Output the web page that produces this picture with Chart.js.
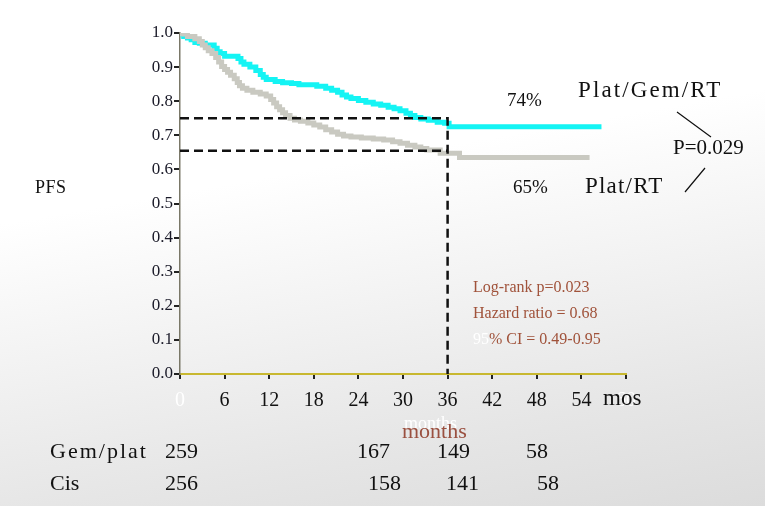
<!DOCTYPE html>
<html>
<head>
<meta charset="utf-8">
<script src="https://cdn.jsdelivr.net/npm/chart.js@4"></script>
<style>
    html, body {
        margin: 0;
        padding: 0;
        width: 765px;
        height: 506px;
        overflow: hidden;
        background: linear-gradient(170deg, #ffffff 0%, #ffffff 35%, #e6e6e6 80%, #dcdcdc 100%);
    }
    #km {
        position: absolute;
        left: 0;
        top: 0;
    }
</style>
</head>
<body>
<canvas id="km" width="765" height="506"></canvas>
<script>
// Plat/Gem/RT (cyan) - time of drop (months) and survival after the drop
const gemTimes = [0, 0.5, 1.0, 1.5, 2.0, 2.6, 3.4, 4.6, 5.0, 5.4, 6.0, 7.8, 8.2, 8.6, 9.4, 10.2, 10.8, 11.2, 11.6, 12.8, 13.8, 15.0, 16.0, 18.4, 19.6, 20.4, 21.2, 21.8, 22.4, 23.0, 24.0, 25.0, 26.0, 27.0, 28.0, 28.8, 29.6, 30.4, 31.0, 31.6, 32.4, 33.4, 34.6, 35.6, 36.2, 45.6, 56.7];
const gemSurv = [1.0, 0.995, 0.99, 0.985, 0.98, 0.972, 0.97, 0.965, 0.955, 0.945, 0.94, 0.932, 0.925, 0.915, 0.908, 0.9, 0.89, 0.878, 0.87, 0.864, 0.858, 0.854, 0.852, 0.848, 0.844, 0.838, 0.832, 0.826, 0.818, 0.812, 0.808, 0.802, 0.797, 0.792, 0.788, 0.782, 0.778, 0.772, 0.765, 0.758, 0.752, 0.748, 0.744, 0.738, 0.735, 0.725, 0.725];

// Plat/RT (grey)
const ratTimes = [0, 1.0, 2.0, 2.6, 3.0, 3.4, 3.8, 4.3, 4.8, 5.2, 5.6, 6.0, 6.4, 6.8, 7.3, 7.7, 8.0, 8.4, 9.0, 9.8, 10.8, 11.6, 12.2, 12.6, 13.0, 13.4, 13.8, 14.2, 14.8, 15.4, 16.2, 17.2, 18.0, 18.8, 19.6, 20.4, 21.2, 22.0, 23.0, 24.4, 26.0, 27.4, 28.6, 29.6, 30.6, 31.6, 32.4, 33.2, 35.0, 37.6, 40.4, 55.1];
const ratSurv = [1.0, 0.997, 0.99, 0.983, 0.975, 0.965, 0.957, 0.948, 0.94, 0.928, 0.915, 0.902, 0.893, 0.885, 0.876, 0.866, 0.855, 0.845, 0.838, 0.832, 0.826, 0.821, 0.815, 0.805, 0.795, 0.784, 0.775, 0.766, 0.758, 0.75, 0.745, 0.741, 0.736, 0.73, 0.724, 0.716, 0.71, 0.703, 0.698, 0.695, 0.692, 0.689, 0.686, 0.681, 0.677, 0.671, 0.666, 0.661, 0.657, 0.647, 0.635, 0.635];

// landmark at 36 months
const landmarkMonth = 36;
const gemLandmark = 0.75;
const ratLandmark = 0.655;

// numbers at risk
const riskGem = ["259", "167", "149", "58"];
const riskCis = ["256", "158", "141", "58"];

function toPoints(times, surv) {
    return times.map((t, i) => ({ x: t, y: surv[i] }));
}

const serif = "'Liberation Serif', 'DejaVu Serif', serif";

const textPlugin = {
    id: "textPlugin",
    afterDraw(chart) {
        const ctx = chart.ctx;
        ctx.save();
        ctx.textBaseline = "alphabetic";
        ctx.textAlign = "left";

        function txt(s, x, y, size, color, spacing) {
            ctx.font = size + "px " + serif;
            ctx.fillStyle = color;
            ctx.letterSpacing = (spacing || 0) + "px";
            ctx.fillText(s, x, y);
            ctx.letterSpacing = "0px";
        }

        txt("PFS", 35, 193, 18, "#111", 0.5);
        txt("74%", 507, 106, 19, "#111");
        txt("65%", 513, 193, 19, "#111");
        txt("Plat/Gem/RT", 578, 97, 23, "#111", 2.1);
        txt("Plat/RT", 585, 193, 23, "#111", 1.2);
        txt("P=0.029", 673, 154, 21, "#111");
        txt("mos", 603, 405, 23, "#111");

        ctx.strokeStyle = "#111";
        ctx.lineWidth = 1.2;
        ctx.beginPath();
        ctx.moveTo(677, 112);
        ctx.lineTo(711, 137);
        ctx.moveTo(705, 168);
        ctx.lineTo(685, 192);
        ctx.stroke();

        const brown = "#a0523a";
        txt("Log-rank p=0.023", 473, 292, 16, brown);
        txt("Hazard ratio = 0.68", 473, 318, 16, brown);
        ctx.font = "16px " + serif;
        ctx.fillStyle = "#ffffff";
        ctx.fillText("95", 473, 344);
        const w95 = ctx.measureText("95").width;
        txt("% CI = 0.49-0.95", 473 + w95, 344, 16, brown);

        txt("months", 404, 429, 18, "#ffffff");
        txt("months", 402, 438, 22, "#9a5040");

        txt("Gem/plat", 50, 458, 22, "#111", 2);
        txt("Cis", 50, 490, 22, "#111");
        const gemX = [165, 357, 437, 526];
        const cisX = [165, 368, 446, 537];
        riskGem.forEach((v, i) => txt(v, gemX[i], 458, 22, "#111"));
        riskCis.forEach((v, i) => txt(v, cisX[i], 490, 22, "#111"));

        ctx.restore();
    },
};

const ctx = document.getElementById("km").getContext("2d");

new Chart(ctx, {
    type: "scatter",
    data: {
        datasets: [
            {
                label: "Plat/RT",
                data: toPoints(ratTimes, ratSurv),
                showLine: true,
                stepped: "after",
                borderColor: "#c9c9c1",
                borderWidth: 5,
                pointRadius: 0,
                order: 1,
            },
            {
                label: "Plat/Gem/RT",
                data: toPoints(gemTimes, gemSurv),
                showLine: true,
                stepped: "after",
                borderColor: "#14f4f4",
                borderWidth: 5,
                pointRadius: 0,
                order: 2,
            },
            {
                label: "landmark Plat/Gem/RT",
                data: [
                    { x: 0, y: gemLandmark },
                    { x: landmarkMonth, y: gemLandmark },
                    { x: landmarkMonth, y: 0 },
                ],
                showLine: true,
                borderColor: "#111",
                borderWidth: 2.5,
                borderDash: [9, 5],
                pointRadius: 0,
                order: 0,
            },
            {
                label: "landmark Plat/RT",
                data: [
                    { x: 0, y: ratLandmark },
                    { x: landmarkMonth, y: ratLandmark },
                ],
                showLine: true,
                borderColor: "#111",
                borderWidth: 2.5,
                borderDash: [9, 5],
                pointRadius: 0,
                order: 0,
            },
        ],
    },
    options: {
        responsive: false,
        animation: false,
        layout: {
            padding: { top: 33, right: 139, left: 0, bottom: 0 },
        },
        plugins: {
            legend: { display: false },
            tooltip: { enabled: false },
        },
        scales: {
            x: {
                type: "linear",
                min: 0,
                max: 60,
                afterFit: (s) => { s.height = 132; },
                border: { color: "#c8b830", width: 2 },
                grid: {
                    drawOnChartArea: false,
                    tickLength: 5,
                    color: "#222",
                    lineWidth: 2,
                },
                ticks: {
                    stepSize: 6,
                    padding: 10,
                    font: { family: serif, size: 20 },
                    color: (c) => (c.tick.value === 0 || c.tick.value === 60 ? "#ffffff" : "#111"),
                },
            },
            y: {
                min: 0,
                max: 1,
                afterFit: (s) => { s.width = 180; },
                border: { color: "#7a7868", width: 1.5 },
                grid: {
                    drawOnChartArea: false,
                    tickLength: 6,
                    color: "#222",
                    lineWidth: 2,
                },
                ticks: {
                    stepSize: 0.1,
                    padding: 1,
                    font: { family: serif, size: 17 },
                    color: "#1a1a28",
                    callback: (v) => v.toFixed(1),
                },
            },
        },
    },
    plugins: [textPlugin],
});
</script>
</body>
</html>
